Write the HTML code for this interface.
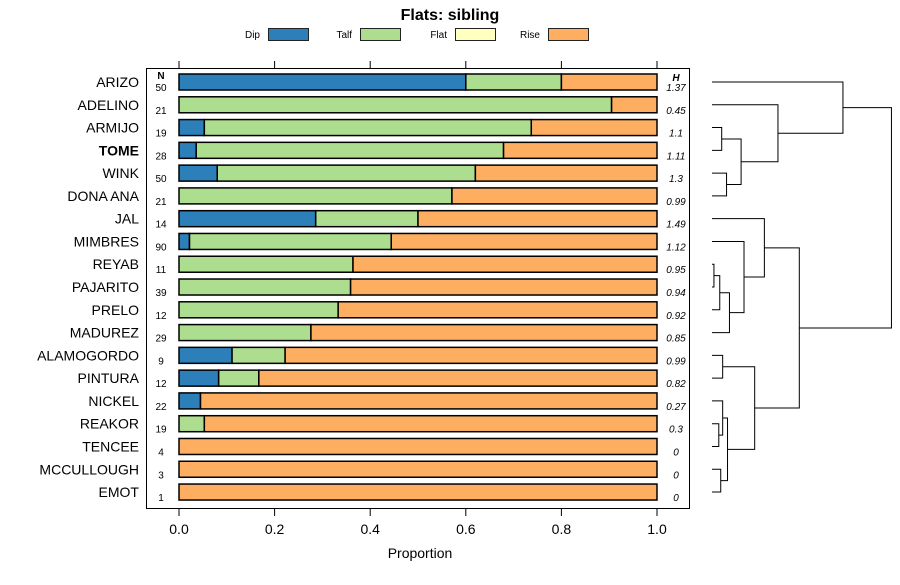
<!DOCTYPE html>
<html><head><meta charset="utf-8"><style>
body{margin:0;background:#fff;font-family:"Liberation Sans",sans-serif}
svg text{font-family:"Liberation Sans",sans-serif}
</style></head><body>
<svg id="c" width="900" height="580" xmlns="http://www.w3.org/2000/svg">
<text x="450" y="20" text-anchor="middle" font-size="16" font-weight="bold">Flats: sibling</text>
<g id="legend" font-size="10"></g>
<rect x="146.5" y="68.5" width="543" height="440" fill="none" stroke="#000"/>
<g id="bars"></g>
<g id="axes"></g>
<g id="dend" stroke="#000" fill="none"></g>
<text x="420" y="558" text-anchor="middle" font-size="14">Proportion</text>
</svg>
<script>
const names=["ARIZO","ADELINO","ARMIJO","TOME","WINK","DONA ANA","JAL","MIMBRES","REYAB","PAJARITO","PRELO","MADUREZ","ALAMOGORDO","PINTURA","NICKEL","REAKOR","TENCEE","MCCULLOUGH","EMOT"];
const nVals=[50,21,19,28,50,21,14,90,11,39,12,29,9,12,22,19,4,3,1];
const hVals=["1.37","0.45","1.1","1.11","1.3","0.99","1.49","1.12","0.95","0.94","0.92","0.85","0.99","0.82","0.27","0.3","0","0","0"];
const dip=[0.6,0,0.053,0.036,0.08,0,0.286,0.022,0,0,0,0,0.111,0.083,0.045,0,0,0,0];
const talf=[0.2,0.905,0.684,0.643,0.54,0.571,0.214,0.422,0.364,0.359,0.333,0.276,0.111,0.084,0,0.053,0,0,0];
const flat=[0,0,0,0,0,0,0,0,0,0,0,0,0,0,0,0,0,0,0];
const rise=dip.map((d,i)=>1-d-talf[i]-flat[i]);
const ticks=[0,0.2,0.4,0.6,0.8,1.0];
const tickLabels=["0.0","0.2","0.4","0.6","0.8","1.0"];
const seriesNames=["Dip","Talf","Flat","Rise"];
const colors=["#2c7fb8","#addd8e","#ffffbf","#fdae61"];
const merges=[[-3,-4,0.1],[-5,-6,0.15],[1,2,0.3],[-2,3,0.68],[-1,4,1.35],
[-9,-10,0.02],[6,-11,0.08],[7,-12,0.18],[-8,8,0.33],[-7,9,0.54],
[-13,-14,0.11],[-16,-17,0.07],[-15,12,0.11],[-18,-19,0.09],[13,14,0.16],[11,15,0.44],[10,16,0.9],[5,17,1.85]];
const NS="http://www.w3.org/2000/svg";
function mk(tag,attrs,parent){const e=document.createElementNS(NS,tag);for(const k in attrs)e.setAttribute(k,attrs[k]);parent.appendChild(e);return e;}
const xs=v=>179+v*478;
const ys=i=>82+i*22.78;
const bars=document.getElementById('bars');
const axes=document.getElementById('axes');
names.forEach((n,i)=>{
  const y=ys(i);
  const lab=mk('text',{x:139,y:y+5,'text-anchor':'end','font-size':14,'font-weight':n==="TOME"?'bold':'normal'},axes);
  lab.textContent=n;
  
  
  const nt=mk('text',{x:161,y:y+9,'text-anchor':'middle','font-size':10},axes);
  nt.textContent=nVals[i];
  
  
  const ht=mk('text',{x:676,y:y+9,'text-anchor':'middle','font-size':10,'font-style':'italic'},axes);
  ht.textContent=hVals[i];
  
  
  let acc=0;const vals=[dip[i],talf[i],flat[i],rise[i]];
  vals.forEach((v,k)=>{
    if(v<=0.0001){return;}
    const r=mk('rect',{x:xs(acc),y:y-8,width:xs(acc+v)-xs(acc),height:16,fill:colors[k],stroke:'#000','stroke-width':1.5},bars);
    
    
    acc+=v;
  });
});
const hN=mk('text',{x:161,y:79,'text-anchor':'middle','font-size':10,'font-weight':'bold'},axes);hN.textContent="N";


const hH=mk('text',{x:676,y:81,'text-anchor':'middle','font-size':10,'font-weight':'bold','font-style':'italic'},axes);hH.textContent="H";


ticks.forEach((t,i)=>{
  mk('line',{x1:xs(t),x2:xs(t),y1:61,y2:68,stroke:'#000'},axes);
  mk('line',{x1:xs(t),x2:xs(t),y1:509,y2:516,stroke:'#000'},axes);
  const tl=mk('text',{x:xs(t),y:534,'text-anchor':'middle','font-size':14},axes);
  tl.textContent=tickLabels[i];
  
  
});
const leg=document.getElementById('legend');
const legX=[268,360,455,548];
seriesNames.forEach((s,k)=>{
  const t=mk('text',{x:legX[k]-8,y:38,'text-anchor':'end','font-size':10},leg);t.textContent=s;
  
  
  const r=mk('rect',{x:legX[k]+.5,y:28.5,width:40,height:12,fill:colors[k],stroke:'#222'},leg);
  
  
});
const dend=document.getElementById('dend');
const dx=h=>712+h*97;
const pos={};
function node(id){if(id<0)return{x:712,y:ys(-id-1)};return pos[id];}
merges.forEach((m,j)=>{
  const a=node(m[0]),b=node(m[1]),X=dx(m[2]);
  const p=mk('path',{d:`M${a.x},${a.y}H${X}V${b.y}H${b.x}`},dend);
  
  
  pos[j+1]={x:X,y:(a.y+b.y)/2};
});
</script>
</body></html>
